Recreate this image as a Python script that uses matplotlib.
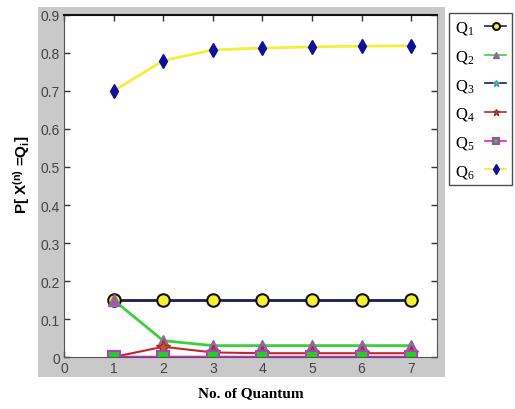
import numpy as np
import matplotlib

matplotlib.use("Agg")
import matplotlib.pyplot as plt
from matplotlib.patches import Rectangle

plt.rcParams["font.family"] = ["Liberation Sans", "DejaVu Sans"]
plt.rcParams["mathtext.default"] = "regular"

quantum = [1, 2, 3, 4, 5, 6, 7]

q1 = [0.15, 0.15, 0.15, 0.15, 0.15, 0.15, 0.15]
q2 = [0.15, 0.043, 0.03, 0.03, 0.03, 0.03, 0.03]
q3 = [0.0, 0.0, 0.0, 0.0, 0.0, 0.0, 0.0]
q4 = [0.0, 0.027, 0.012, 0.01, 0.01, 0.01, 0.01]
q5 = [0.0, 0.0, 0.0, 0.0, 0.0, 0.0, 0.0]
q6 = [0.70, 0.78, 0.808, 0.813, 0.816, 0.818, 0.819]

labels = ["Q$_1$", "Q$_2$", "Q$_3$", "Q$_4$", "Q$_5$", "Q$_6$"]

fig = plt.figure(figsize=(5.15, 4.10), dpi=100)
fig.patch.set_facecolor("white")

# grey panel behind the axes
fig.patches.append(Rectangle((0.0738, 0.078), 0.7902, 0.902,
                             transform=fig.transFigure, facecolor="#c9c9c9",
                             edgecolor="none", zorder=-5))

ax = fig.add_axes([0.1243, 0.1268, 0.7242, 0.8342])
ax.set_facecolor("white")

ax.plot(quantum, q1, color="#1c1c5a", lw=2, marker="o", ms=9,
        mfc="#f5f032", mec="#111111", mew=1.5, label=labels[0])
ax.plot(quantum, q2, color="#3ecf3e", lw=2, marker="^", ms=9,
        mfc="#9a5fa8", mec="#8a6a9a", mew=1, label=labels[1])
ax.plot(quantum, q3, color="#1c1c5a", lw=1.5, marker="*", ms=9,
        mfc="#6fd8e0", mec="#3aa0b0", mew=1, label=labels[2])
ax.plot(quantum, q4, color="#c02828", lw=1.5, marker="*", ms=10,
        mfc="#c05a20", mec="#a03020", mew=1, label=labels[3])
ax.plot(quantum, q5, color="#e020d0", lw=2.5, marker="s", ms=8,
        mfc="#22d022", mec="#b040c0", mew=1.5, label=labels[4])
ax.plot(quantum, q6, color="#f2f03a", lw=2, marker="d", ms=7,
        mfc="#10109a", mec="#10109a", mew=1, label=labels[5])

ax.set_xlim(0, 7.52)
ax.set_ylim(0, 0.9)
ax.set_xticks(range(0, 8))
ax.set_yticks(np.arange(0, 0.91, 0.1))
ax.set_yticklabels(["0", "0.1", "0.2", "0.3", "0.4", "0.5", "0.6", "0.7", "0.8", "0.9"])
ax.tick_params(direction="in", top=True, right=True, length=4, width=1,
               labelsize=10, labelcolor="#444444", color="#333333", pad=3)
for side in ["left", "right", "bottom"]:
    ax.spines[side].set_color("#555555")
ax.spines["top"].set_color("#111111")
ax.spines["top"].set_linewidth(1.5)

ax.set_xlabel("No. of Quantum", family="Liberation Serif", fontweight="bold",
              fontsize=11, labelpad=8)
ax.set_ylabel("P[ X$^{(n)}$ =Q$_i$]", fontweight="bold", fontsize=11)
ax.yaxis.set_label_coords(-0.085, 0.535)

leg = fig.legend(loc="upper left", bbox_to_anchor=(0.872, 0.965),
                 markerfirst=False, frameon=True, fancybox=False,
                 prop={"family": "Liberation Serif", "size": 12},
                 handlelength=1.3, labelspacing=0.7, borderpad=0.35,
                 handletextpad=0.6, borderaxespad=0)
leg.get_frame().set_edgecolor("#222222")
leg.get_frame().set_linewidth(1)
for h in leg.legend_handles:
    h.set_markersize(5)
    h.set_linewidth(1.2)

fig.savefig("out.png", dpi=100)
